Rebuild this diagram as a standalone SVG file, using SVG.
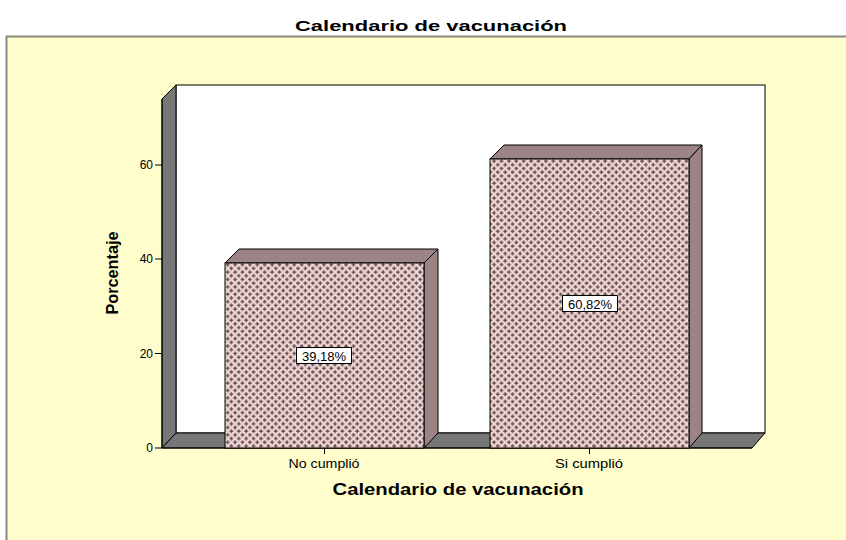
<svg xmlns="http://www.w3.org/2000/svg" width="846" height="540" viewBox="0 0 846 540">
<style>
.t{font-family:"Liberation Sans",Arial,sans-serif;fill:#000}
.b{font-weight:bold}
.ax{stroke:#000;stroke-width:1;fill:none}
.side{fill:#777777;stroke:#000;stroke-width:1;stroke-linejoin:round}
.bs{fill:#9c8484;stroke:#000;stroke-width:1;stroke-linejoin:round}
.bf{fill:url(#pat);stroke:#000;stroke-width:1}
.lb{fill:#fff;stroke:#000;stroke-width:1}
</style>
<defs>
<pattern id="pat" x="0" y="0" width="7.4" height="7.4" patternUnits="userSpaceOnUse">
<rect width="7.4" height="7.4" fill="#f5d6d6"/>
<g fill="#4a3e3e">
<rect x="0" y="1.45" width="4" height="1.1"/><rect x="1.45" y="0" width="1.1" height="4"/>
<rect x="3.7" y="5.15" width="4" height="1.1"/><rect x="5.15" y="3.7" width="1.1" height="4"/>
<rect x="-3.7" y="5.15" width="4" height="1.1"/><rect x="-2.25" y="3.7" width="1.1" height="4"/>
<rect x="3.7" y="-2.25" width="4" height="1.1"/><rect x="5.15" y="-3.7" width="1.1" height="4"/>
</g>
</pattern>
</defs>
<rect width="846" height="540" fill="#fff"/>
<text class="t b" x="431" y="31" font-size="15" text-anchor="middle" textLength="272" lengthAdjust="spacingAndGlyphs">Calendario de vacunación</text>
<rect x="6.5" y="36.5" width="845" height="510" fill="#fefdcb" stroke="#8a8a80" stroke-width="2"/>
<g id="plot">
<rect x="176" y="85" width="589" height="348" fill="#fff" stroke="#000"/>
<polygon class="side" points="162,99 176,85 176,433 162,448"/>
<polygon class="side" points="162,448 176,433 765,433 752,448"/>
</g>
<g id="axes">
<line class="ax" x1="162" y1="99" x2="162" y2="448"/>
<line class="ax" x1="155" y1="448" x2="162" y2="448"/>
<line class="ax" x1="155" y1="353.5" x2="162" y2="353.5"/>
<line class="ax" x1="155" y1="259" x2="162" y2="259"/>
<line class="ax" x1="155" y1="165" x2="162" y2="165"/>
<line class="ax" x1="162" y1="448" x2="752" y2="448"/>
<line class="ax" x1="324.5" y1="448" x2="324.5" y2="454"/>
<line class="ax" x1="589.5" y1="448" x2="589.5" y2="454"/>
<text class="t" x="153" y="452" font-size="12" text-anchor="end">0</text>
<text class="t" x="153" y="357.5" font-size="12" text-anchor="end">20</text>
<text class="t" x="153" y="263" font-size="12" text-anchor="end">40</text>
<text class="t" x="153" y="169" font-size="12" text-anchor="end">60</text>
<text class="t" x="324" y="468" font-size="13" text-anchor="middle" textLength="71" lengthAdjust="spacingAndGlyphs">No cumplió</text>
<text class="t" x="589" y="468" font-size="13" text-anchor="middle" textLength="68" lengthAdjust="spacingAndGlyphs">Si cumplió</text>
<text class="t b" x="458" y="495" font-size="16" text-anchor="middle" textLength="251" lengthAdjust="spacingAndGlyphs">Calendario de vacunación</text>
<text class="t b" transform="translate(118,273) rotate(-90)" x="0" y="0" font-size="16" text-anchor="middle" textLength="83" lengthAdjust="spacingAndGlyphs">Porcentaje</text>
</g>
<g id="bar-no">
<polygon class="bs" points="225,263 239,249 438,249 424,263"/>
<polygon class="bs" points="424,263 438,249 438,433 424,448"/>
<rect class="bf" x="225" y="263" width="199" height="185"/>
<rect class="lb" x="296.5" y="347.5" width="55" height="16"/>
<text class="t" x="324" y="360.5" font-size="13" text-anchor="middle">39,18%</text>
</g>
<g id="bar-si">
<polygon class="bs" points="490,159 504,145 702,145 689,159"/>
<polygon class="bs" points="689,159 702,145 702,433 689,448"/>
<rect class="bf" x="490" y="159" width="199" height="289"/>
<rect class="lb" x="562.5" y="295.5" width="55" height="16"/>
<text class="t" x="590" y="308.5" font-size="13" text-anchor="middle">60,82%</text>
</g>
</svg>
